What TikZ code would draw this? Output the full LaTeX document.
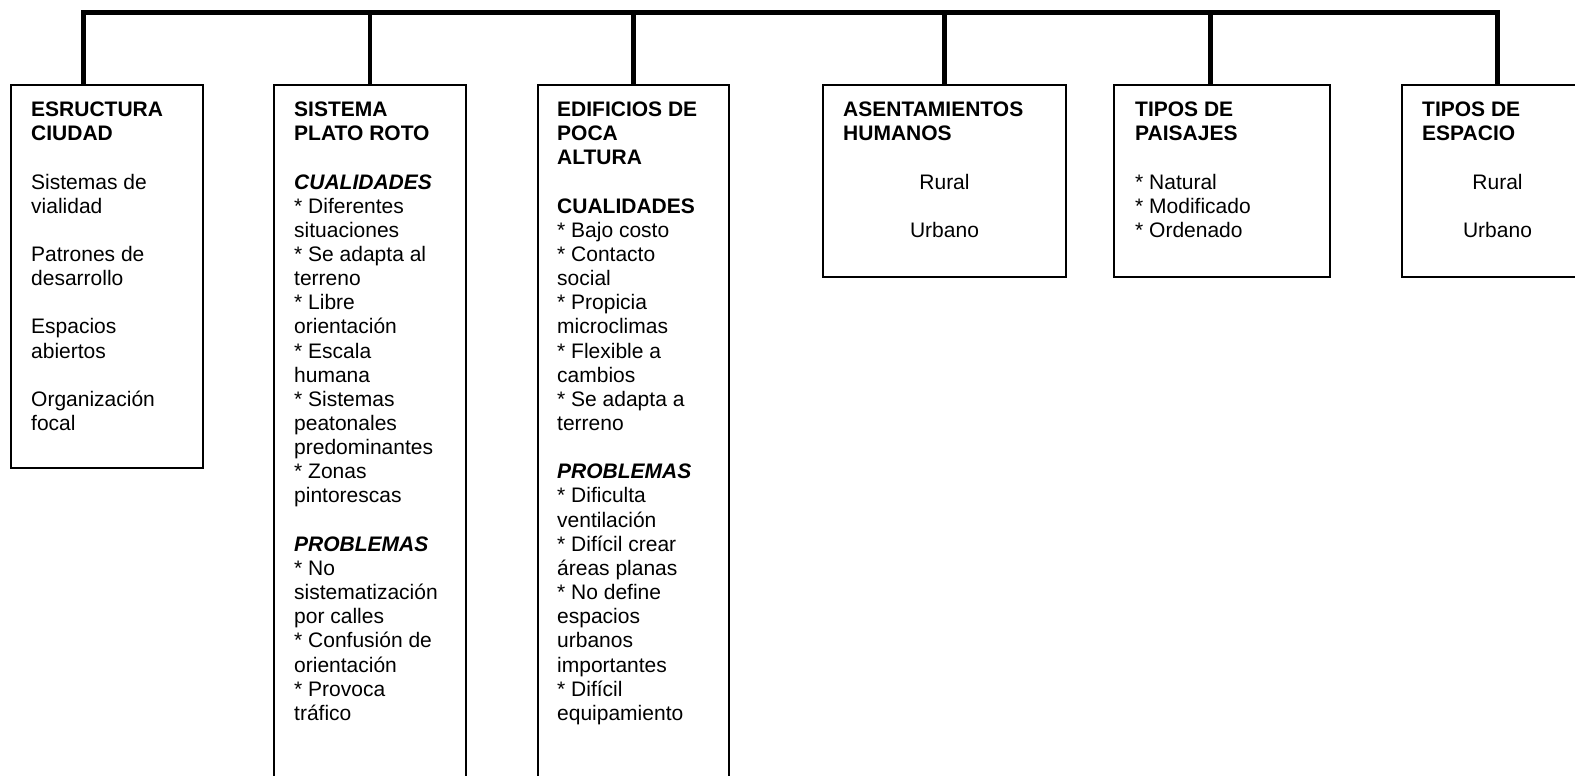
\documentclass[tikz,border=0pt]{standalone}
\usepackage{fontspec}
\setmainfont{Liberation Sans}

\begin{document}
\begin{tikzpicture}[x=1pt,y=-1pt,
    box/.style={draw,line width=1.5pt,inner sep=0pt,outer sep=0pt,anchor=north west,minimum height=#1},
    txt/.style={inner sep=0pt,anchor=north west,align=left,font=\fontsize{21}{24.15}\selectfont},
    mid/.style={inner sep=0pt,anchor=north,align=center,font=\fontsize{21}{24.15}\selectfont},
    bar/.style={line width=4.5pt}]
    \useasboundingbox (0,0) rectangle (1575,776);
    \clip (0,0) rectangle (1575,776);
    % boxes
    \node[box=383pt,minimum width=192pt] (b1) at (11,85) {};
    \node[box=715pt,minimum width=192pt] (b2) at (274,85) {};
    \node[box=715pt,minimum width=191pt] (b3) at (538,85) {};
    \node[box=192pt,minimum width=243pt] (b4) at (823,85) {};
    \node[box=192pt,minimum width=216pt] (b5) at (1114,85) {};
    \node[box=192pt,minimum width=191pt] (b6) at (1402,85) {};
    % texts
    \node[txt] (t1) at ([xshift=20pt,yshift=-16.7pt]b1.north west) {\textbf{ESRUCTURA}\\\textbf{CIUDAD}\\[24.15pt]
        Sistemas de\\vialidad\\[24.15pt]Patrones de\\desarrollo\\[24.15pt]Espacios\\abiertos\\[24.15pt]Organización\\focal};
    \node[txt] (t2) at ([xshift=20pt,yshift=-16.7pt]b2.north west) {\textbf{SISTEMA}\\\textbf{PLATO ROTO}\\[24.15pt]
        \textbf{\textit{CUALIDADES}}\\* Diferentes\\situaciones\\* Se adapta al\\terreno\\* Libre\\orientación\\
        * Escala\\humana\\* Sistemas\\peatonales\\predominantes\\* Zonas\\pintorescas\\[24.15pt]
        \textbf{\textit{PROBLEMAS}}\\* No\\sistematización\\por calles\\* Confusión de\\orientación\\* Provoca\\tráfico};
    \node[txt] (t3) at ([xshift=19pt,yshift=-16.7pt]b3.north west) {\textbf{EDIFICIOS DE}\\\textbf{POCA}\\\textbf{ALTURA}\\[24.15pt]
        \textbf{CUALIDADES}\\* Bajo costo\\* Contacto\\social\\* Propicia\\microclimas\\* Flexible a\\cambios\\
        * Se adapta a\\terreno\\[24.15pt]
        \textbf{\textit{PROBLEMAS}}\\* Dificulta\\ventilación\\* Difícil crear\\áreas planas\\* No define\\espacios\\
        urbanos\\importantes\\* Difícil\\equipamiento};
    \node[txt] (t4) at ([xshift=20pt,yshift=-16.7pt]b4.north west) {\textbf{ASENTAMIENTOS}\\\textbf{HUMANOS}};
    \node[mid] (i4) at ([yshift=-89.2pt]b4.north) {Rural\\[24.15pt]Urbano};
    \node[txt] (t5) at ([xshift=21pt,yshift=-16.7pt]b5.north west) {\textbf{TIPOS DE}\\\textbf{PAISAJES}\\[24.15pt]
        * Natural\\* Modificado\\* Ordenado};
    \node[txt] (t6) at ([xshift=20pt,yshift=-16.7pt]b6.north west) {\textbf{TIPOS DE}\\\textbf{ESPACIO}};
    \node[mid] (i6) at ([yshift=-89.2pt]b6.north) {Rural\\[24.15pt]Urbano};
    % bar
    \coordinate (top) at (0,12.5);
    \draw[bar] ([xshift=-23.5pt]b1.north) |- (b6.north |- top) -- (b6.north);
    \foreach \b in {b2,b3,b4} { \draw[bar] (\b.north) -- (\b.north |- top); }
    \draw[bar] ([xshift=-11.5pt]b5.north) -- ([xshift=-11.5pt]b5.north |- top);
\end{tikzpicture}
\end{document}
